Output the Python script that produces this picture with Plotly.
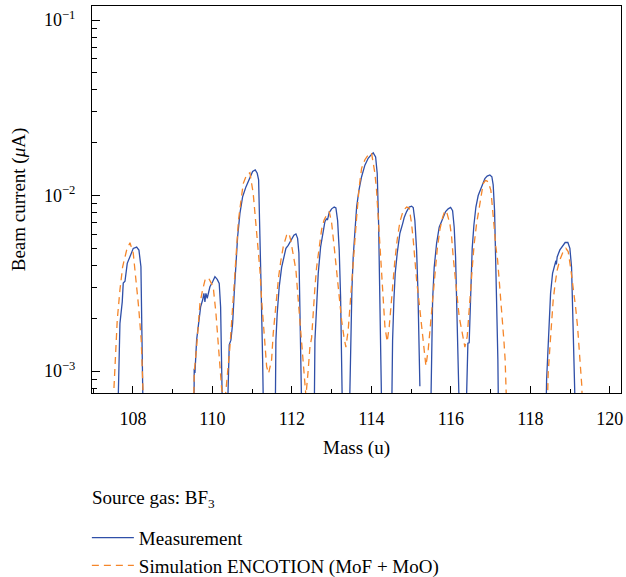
import plotly.graph_objects as go

# ---------------- data ----------------
# Measurement (blue solid). None marks a gap in the measured trace.
meas_mass = [
    107.615, 107.673, 107.731, 107.756, 107.800, 107.857, 107.942, 108.008, 108.093, 108.151, 108.201, 108.226, 108.259,
    109.535, 109.542, 109.560, 109.602, 109.660, 109.703, 109.753, 109.786, 109.811, 109.836, 109.869, 109.937, 110.005,
    110.063, 110.121, 110.171, 110.206, 110.231, 110.257,
    110.372, 110.423, 110.465, 110.508, 110.548, 110.591, 110.634, 110.692, 110.760, 110.843, 110.926, 111.011, 111.077,
    111.127, 111.162, 111.195, 111.228, 111.263, 111.288,
    111.580, 111.597, 111.630, 111.680, 111.741, 111.799, 111.849, 111.907, 111.992, 112.050, 112.101, 112.143, 112.176,
    112.201, 112.226, 112.252,
    112.560, 112.579, 112.621, 112.662, 112.722, 112.772, 112.830, 112.873, 112.893, 112.938, 112.999, 113.064, 113.107,
    113.150, 113.190, 113.225, 113.250, 113.275,
    113.442, 113.477, 113.509, 113.542, 113.585, 113.628, 113.686, 113.753, 113.836, 113.919, 113.987, 114.045, 114.106,
    114.146, 114.181, 114.214, 114.239, 114.264,
    114.508, 114.533, 114.566, 114.599, 114.649, 114.717, 114.785, 114.825, 114.886, 114.951, 115.011, 115.052, 115.094,
    115.137, 115.170, 115.195, 115.220, None,
    115.489, 115.514, 115.540, 115.580, 115.640, 115.706, 115.766, 115.806, 115.867, 115.932, 115.993, 116.043, 116.083,
    116.118, 116.151, 116.184, 116.219,
    116.377, 116.410, 116.428, 116.460, 116.478, 116.503, 116.536, 116.579, 116.629, 116.687, 116.772, 116.813, 116.855,
    116.913, 116.981, 117.031, 117.064, 117.099, 117.132, 117.157, 117.182, 117.200,
    118.390, 118.408, 118.433, 118.465, 118.508, 118.558, 118.616, 118.642, 118.654, 118.674, 118.742, 118.810, 118.875,
    118.943, 118.994, 119.036, 119.077, 119.112, 119.137,
]
meas_current = [
    5e-4, 1.87e-3, 2.48e-3, 3.17e-3, 3.25e-3, 4.11e-3, 4.58e-3, 5.0e-3, 5.09e-3, 4.89e-3, 3.93e-3, 1.95e-3, 5e-4,
    5e-4, 1.03e-3, 9.75e-4, 1.5e-3, 1.95e-3, 2.32e-3, 2.54e-3, 2.77e-3, 2.48e-3, 2.77e-3, 2.6e-3, 3.02e-3, 3.23e-3,
    3.45e-3, 3.33e-3, 3.16e-3, 2.32e-3, 1.26e-3, 5e-4,
    5e-4, 1.41e-3, 1.5e-3, 1.87e-3, 2.77e-3, 4.28e-3, 5.82e-3, 7.92e-3, 9.85e-3, 1.12e-2, 1.25e-2, 1.37e-2, 1.40e-2,
    1.34e-2, 1.23e-2, 6.6e-3, 2.77e-3, 1.16e-3, 5e-4,
    5e-4, 1.5e-3, 2.13e-3, 3.02e-3, 3.9e-3, 4.47e-3, 5.0e-3, 5.2e-3, 5.6e-3, 5.95e-3, 6.05e-3, 5.7e-3, 4.7e-3,
    2.77e-3, 1.64e-3, 5e-4,
    5e-4, 1.5e-3, 2.32e-3, 3.6e-3, 5.1e-3, 6.1e-3, 7.1e-3, 7.4e-3, 7.25e-3, 8.0e-3, 8.4e-3, 8.6e-3, 8.5e-3,
    7.2e-3, 4.9e-3, 2.63e-3, 1.5e-3, 5e-4,
    5e-4, 1.5e-3, 2.9e-3, 4.47e-3, 6.4e-3, 8.6e-3, 1.07e-2, 1.28e-2, 1.49e-2, 1.63e-2, 1.70e-2, 1.75e-2, 1.66e-2,
    1.34e-2, 6.9e-3, 2.9e-3, 1.5e-3, 5e-4,
    5e-4, 1.5e-3, 2.54e-3, 3.6e-3, 4.69e-3, 6.1e-3, 6.9e-3, 7.5e-3, 8.1e-3, 8.6e-3, 8.7e-3, 8.55e-3, 7.2e-3,
    4.9e-3, 2.9e-3, 1.64e-3, 8.2e-4, None,
    5e-4, 1.5e-3, 2.54e-3, 3.9e-3, 5.34e-3, 6.6e-3, 7.1e-3, 7.4e-3, 8.1e-3, 8.4e-3, 8.55e-3, 8.2e-3, 6.6e-3,
    4.47e-3, 2.54e-3, 1.5e-3, 5e-4,
    5e-4, 1.1e-3, 1.44e-3, 1.45e-3, 2.0e-3, 3.2e-3, 5.0e-3, 6.8e-3, 8.6e-3, 1.0e-2, 1.12e-2, 1.2e-2, 1.25e-2,
    1.29e-2, 1.31e-2, 1.28e-2, 1.15e-2, 8.2e-3, 4.3e-3, 2.2e-3, 1.16e-3, 5e-4,
    5e-4, 8.9e-4, 1.26e-3, 1.95e-3, 2.77e-3, 3.6e-3, 4.1e-3, 4.25e-3, 4.05e-3, 4.47e-3, 4.9e-3, 5.2e-3, 5.4e-3,
    5.4e-3, 5.0e-3, 3.9e-3, 1.95e-3, 1.16e-3, 5e-4,
]

# Simulation ENCOTION (orange dashed)
sim_mass = [
    107.479, 107.547, 107.605, 107.673, 107.741, 107.842, 107.925, 108.008, 108.075, 108.143, 108.209, 108.259, 108.284,
    109.520, 109.542, 109.602, 109.653, 109.686, 109.753, 109.819, 109.900, 109.962, 110.020, 110.088, 110.138, 110.189,
    110.231, 110.309,
    110.372, 110.440, 110.498, 110.558, 110.609, 110.654, 110.709, 110.775, 110.860, 110.943, 111.026, 111.087, 111.162,
    111.195, 111.238, 111.278, 111.321, 111.364, 111.414,
    111.489, 111.530, 111.572, 111.615, 111.665, 111.723, 111.781, 111.867, 111.925, 111.967, 112.050, 112.101, 112.133,
    112.176, 112.219, 112.269, 112.319, 112.352,
    112.403, 112.453, 112.496, 112.536, 112.579, 112.621, 112.687, 112.747, 112.805, 112.873, 112.938, 112.999, 113.056,
    113.107, 113.150, 113.190, 113.250, 113.308, 113.358,
    113.416, 113.459, 113.501, 113.542, 113.585, 113.628, 113.693, 113.753, 113.836, 113.919, 114.003, 114.088, 114.130,
    114.171, 114.214, 114.257, 114.297, 114.340, 114.397,
    114.448, 114.491, 114.533, 114.591, 114.649, 114.717, 114.800, 114.886, 114.951, 115.011, 115.052, 115.094, 115.137,
    115.203, 115.263, 115.321, 115.371,
    115.429, 115.472, 115.514, 115.555, 115.597, 115.655, 115.723, 115.791, 115.849, 115.892, 115.975, 116.018, 116.058,
    116.101, 116.159, 116.209, 116.267, 116.309, 116.352,
    116.410, 116.460, 116.503, 116.546, 116.586, 116.646, 116.712, 116.772, 116.813, 116.873, 116.938, 117.006, 117.049,
    117.089, 117.132, 117.175, 117.215, 117.258, 117.301, 117.333, 117.365, 117.390, 117.416,
    118.415, 118.448, 118.491, 118.533, 118.574, 118.624, 118.674, 118.742, 118.825, 118.893, 118.951, 119.011, 119.077,
    119.137, 119.187, 119.228, 119.263, 119.296, 119.313,
]
sim_current = [
    5e-4, 1.16e-3, 1.95e-3, 2.9e-3, 3.93e-3, 4.89e-3, 5.38e-3, 4.7e-3, 3.44e-3, 2.32e-3, 1.5e-3, 8.9e-4, 5e-4,
    5e-4, 9.8e-4, 1.37e-3, 1.87e-3, 2.43e-3, 2.9e-3, 3.34e-3, 3.4e-3, 3.2e-3, 3.02e-3, 2.14e-3, 1.57e-3, 1.16e-3,
    8.0e-4, 6.5e-4,
    8.9e-4, 1.37e-3, 2.13e-3, 3.44e-3, 5.34e-3, 7.2e-3, 9.0e-3, 1.17e-2, 1.31e-2, 1.35e-2, 1.03e-2, 7.2e-3, 4.69e-3,
    3.76e-3, 2.54e-3, 1.87e-3, 1.44e-3, 1.06e-3, 9.7e-4,
    1.16e-3, 1.64e-3, 2.13e-3, 2.63e-3, 3.44e-3, 4.28e-3, 5.1e-3, 5.95e-3, 6.1e-3, 5.6e-3, 4.47e-3, 3.76e-3, 3.02e-3,
    2.32e-3, 1.71e-3, 1.21e-3, 9.3e-4, 7.2e-4,
    9.7e-4, 1.37e-3, 1.55e-3, 2.2e-3, 3.0e-3, 3.9e-3, 5.1e-3, 6.4e-3, 7.2e-3, 7.75e-3, 8.1e-3, 7.0e-3, 5.3e-3,
    4.1e-3, 3.3e-3, 2.5e-3, 1.95e-3, 1.57e-3, 1.37e-3,
    1.71e-3, 2.32e-3, 3.3e-3, 4.47e-3, 5.8e-3, 7.5e-3, 1.12e-2, 1.43e-2, 1.60e-2, 1.70e-2, 1.75e-2, 1.34e-2, 1.07e-2,
    7.5e-3, 4.9e-3, 3.3e-3, 2.32e-3, 1.79e-3, 1.47e-3,
    1.79e-3, 2.32e-3, 3.16e-3, 4.28e-3, 5.6e-3, 7.1e-3, 8.2e-3, 8.6e-3, 8.5e-3, 6.9e-3, 5.6e-3, 4.3e-3, 3.3e-3,
    2.43e-3, 1.79e-3, 1.32e-3, 1.07e-3,
    1.32e-3, 1.71e-3, 2.2e-3, 2.9e-3, 3.76e-3, 4.9e-3, 6.4e-3, 7.5e-3, 8.2e-3, 8.1e-3, 6.9e-3, 5.8e-3, 4.47e-3,
    3.44e-3, 2.63e-3, 2.04e-3, 1.71e-3, 1.5e-3, 1.37e-3,
    1.57e-3, 2.13e-3, 3.02e-3, 4.1e-3, 5.3e-3, 6.9e-3, 8.6e-3, 1.03e-2, 1.17e-2, 1.22e-2, 1.2e-2, 1.07e-2, 8.6e-3,
    6.6e-3, 5.1e-3, 4.3e-3, 3.3e-3, 2.54e-3, 1.95e-3, 1.5e-3, 1.16e-3, 8.9e-4, 5e-4,
    5e-4, 9.7e-4, 1.37e-3, 1.95e-3, 2.54e-3, 3.16e-3, 3.76e-3, 4.3e-3, 4.8e-3, 5.0e-3, 4.8e-3, 3.9e-3, 3.02e-3,
    2.32e-3, 1.79e-3, 1.37e-3, 1.06e-3, 8.1e-4, 5e-4,
]

x_major = [108, 110, 112, 114, 116, 118, 120]
x_minor = [107, 109, 111, 113, 115, 117, 119]
y_major = [1e-3, 1e-2, 1e-1]
y_major_text = ["10<sup>−3</sup>", "10<sup>−2</sup>", "10<sup>−1</sup>"]
y_minor = [m * 10.0 ** e for e in (-4, -3, -2) for m in range(2, 10)]

FONT = "Liberation Serif"
BLUE = "#2f4fa8"
ORANGE = "#f5862a"

fig = go.Figure()
fig.add_trace(go.Scatter(
    x=meas_mass, y=meas_current, mode="lines", name="Measurement",
    line=dict(color=BLUE, width=1.3), connectgaps=False,
))
fig.add_trace(go.Scatter(
    x=sim_mass, y=sim_current, mode="lines", name="Simulation ENCOTION (MoF + MoO)",
    line=dict(color=ORANGE, width=1.3, dash="7px,5px"),
))

fig.update_xaxes(
    range=[106.97, 120.28], showline=True, linecolor="black", linewidth=1.2, mirror=True,
    tickmode="array", tickvals=x_major, ticks="inside", ticklen=7, tickwidth=1.2, tickcolor="black",
    minor=dict(tickmode="array", tickvals=x_minor, ticks="inside", ticklen=4, tickwidth=1.2, tickcolor="black"),
    showgrid=False, zeroline=False, ticklabelstandoff=9, automargin=False,
    tickfont=dict(family=FONT, size=18, color="black"),
    title=dict(text="Mass (u)", font=dict(family=FONT, size=19, color="black"), standoff=12),
)
fig.update_yaxes(
    type="log", range=[-3.125, -0.92], showline=True, linecolor="black", linewidth=1.2, mirror=True,
    tickmode="array", tickvals=y_major, ticktext=y_major_text, ticks="inside", ticklen=8, tickwidth=1.2,
    tickcolor="black",
    minor=dict(tickmode="array", tickvals=y_minor, ticks="inside", ticklen=5, tickwidth=1.2, tickcolor="black"),
    showgrid=False, zeroline=False, ticklabelstandoff=12, automargin=False,
    tickfont=dict(family=FONT, size=18, color="black"),
    title=dict(text="Beam current (<i>μ</i>A)", font=dict(family=FONT, size=19, color="black"), standoff=13),
)

fig.update_layout(
    width=626, height=577,
    margin=dict(l=92, r=5, t=6, b=184, autoexpand=False),
    paper_bgcolor="white", plot_bgcolor="white",
    font=dict(family=FONT, size=19, color="black"),
    showlegend=True,
    legend=dict(
        x=-0.0097, xanchor="left", y=-0.325, yanchor="top",
        font=dict(family=FONT, size=19, color="black"),
        bgcolor="rgba(0,0,0,0)", tracegroupgap=0, itemwidth=42,
    ),
    annotations=[dict(
        text="Source gas: BF<sub>3</sub>", xref="paper", yref="paper",
        x=-0.004, y=-0.275, xanchor="left", yanchor="middle", showarrow=False,
        font=dict(family=FONT, size=19, color="black"),
    )],
)

fig.write_html("out.html", config={"displayModeBar": False},
               post_script="document.body.style.margin='0';")
